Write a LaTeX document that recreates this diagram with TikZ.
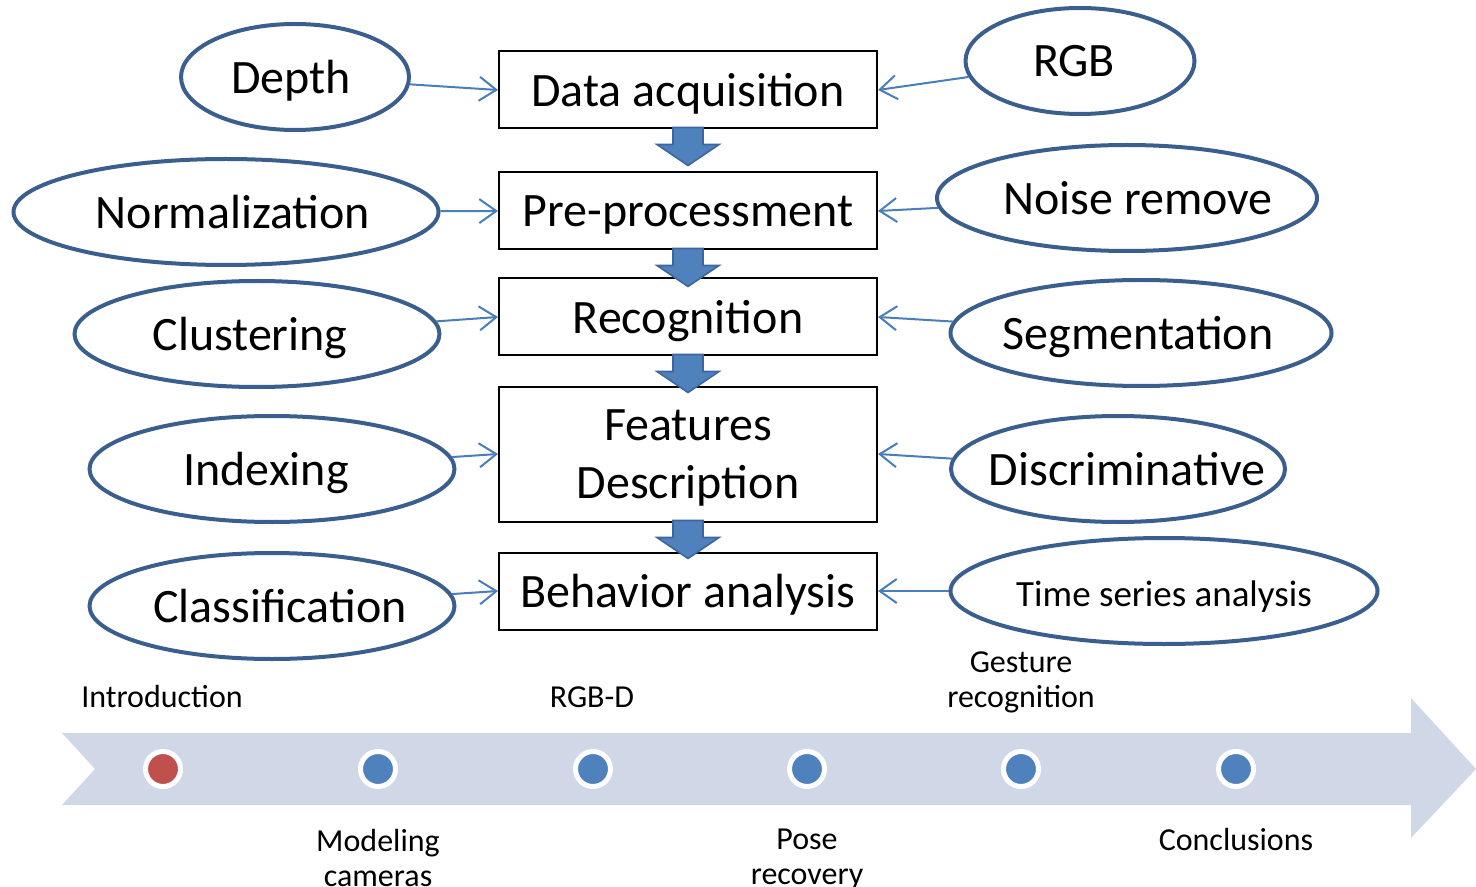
\documentclass[tikz,border=0pt]{standalone}
\usepackage{fontspec}
\setmainfont{Carlito}
\usetikzlibrary{shapes.geometric, arrows, arrows.meta, positioning, calc}

\definecolor{ringblue}{HTML}{3A5F8F}
\definecolor{linkblue}{HTML}{4A7EBB}
\definecolor{flowblue}{HTML}{4F81BD}
\definecolor{flowedge}{HTML}{3C679E}
\definecolor{bandgray}{HTML}{D0D8E8}
\definecolor{dotred}{HTML}{C0504D}

\begin{document}
\begin{tikzpicture}[
    x=0.5pt, y=-0.5pt,
    stage/.style={draw, line width=1pt, minimum width=189pt, minimum height=38.5pt, inner sep=0pt, text depth=0pt, align=center, font=\fontsize{24}{29}\selectfont},
    topic/.style={ellipse, draw=ringblue, line width=2pt, inner sep=0pt, minimum height=53pt},
    every label/.style={text depth=0pt, font=\fontsize{24}{29}\selectfont},
    link/.style={-{Straight Barb[length=8.5pt, width=12pt]}, draw=linkblue, line width=1pt},
    flow/.style={fill=flowblue, draw=flowedge, line width=0.8pt, line join=miter},
    dot/.style={circle, draw=white, line width=2.5pt, minimum size=17.5pt, inner sep=0pt},
    note/.style={align=center, inner sep=0pt, font=\fontsize{16}{17.5}\selectfont}
]
    \useasboundingbox (0,0) rectangle (1476,887);

    % Processing chain
    \node[stage] (data) at (688,90) {Data acquisition};
    \node[stage] (pre) at (688,211) {Pre-processment};
    \node[stage] (rec) at (688,317) {Recognition};
    \node[stage, minimum height=67.5pt] (feat) at (688,454) {Features\\Description};
    \node[stage] (behav) at (688,591) {Behavior analysis};

    % Block arrows between stages
    \foreach \a in {data, pre, rec, feat}
        \filldraw[flow] ($(\a.south)+(-15,-2)$) -- ++(0,17) -- ++(-16,0) -- ++(31,21)
            -- ++(31,-21) -- ++(-16,0) -- ++(0,-17) -- cycle;

    % Left side topics
    \node[topic, minimum width=114pt, label={[xshift=-2pt]center:Depth}] (depth) at (295,77) {};
    \node[topic, minimum width=212.5pt, label={[xshift=3.5pt]center:Normalization}] (norm) at (226,212) {};
    \node[topic, minimum width=182.5pt, label={[xshift=-3.5pt]center:Clustering}] (clus) at (257,334) {};
    \node[topic, minimum width=182.5pt, label={[xshift=-3pt]center:Indexing}] (index) at (272,469) {};
    \node[topic, minimum width=182.5pt, label={[xshift=4pt]center:Classification}] (classif) at (272,606) {};

    % Right side topics
    \node[topic, minimum width=114.5pt, label={[xshift=-3pt]center:RGB}] (rgb) at (1080,61) {};
    \node[topic, minimum width=190pt, label={[xshift=5.5pt]center:Noise remove}] (noise) at (1127,198) {};
    \node[topic, minimum width=190.5pt, label={[xshift=-1.5pt]center:Segmentation}] (segm) at (1141,333) {};
    \node[topic, minimum width=167pt, label={[xshift=4.5pt]center:Discriminative}] (discr) at (1118,469) {};
    \node[topic, minimum width=213.5pt, label={[yshift=-1.5pt, font=\fontsize{18.5}{22}\selectfont]center:Time series analysis}] (tsa) at (1164,591) {};

    % Links into the chain
    \draw[link] (depth) -- (data.west);
    \draw[link] (rgb) -- (data.east);
    \draw[link] (norm) -- (pre.west);
    \draw[link] (noise) -- (pre.east);
    \draw[link] (clus) -- (rec.west);
    \draw[link] (segm) -- (rec.east);
    \draw[link] (index) -- (feat.west);
    \draw[link] (discr) -- (feat.east);
    \draw[link] (classif) -- (behav.west);
    \draw[link] (tsa) -- (behav.east);

    % Timeline band
    \fill[bandgray] (62,733) -- (1411,733) -- (1411,698) -- (1476,769) -- (1411,838)
        -- (1411,805) -- (62,805) -- (95,769) -- cycle;

    % Timeline stops
    \node[dot, fill=dotred] (t1) at (163,769) {};
    \node[dot, fill=flowblue] (t2) at (378,769) {};
    \node[dot, fill=flowblue] (t3) at (593,769) {};
    \node[dot, fill=flowblue] (t4) at (807,769) {};
    \node[dot, fill=flowblue] (t5) at (1021,769) {};
    \node[dot, fill=flowblue] (t6) at (1236,769) {};

    % Timeline labels
    \node[note] (intro) at (162,697) {Introduction};
    \node[note] (rgbd) at (592,697) {RGB-D};
    \node[note] (gest) at (1021,682) {Gesture\\recognition};
    \node[note] (model) at (378,858) {Modeling\\cameras};
    \node[note] (pose) at (807,859) {Pose\\recovery};
    \node[note] (concl) at (1236,839) {Conclusions};
\end{tikzpicture}
\end{document}
